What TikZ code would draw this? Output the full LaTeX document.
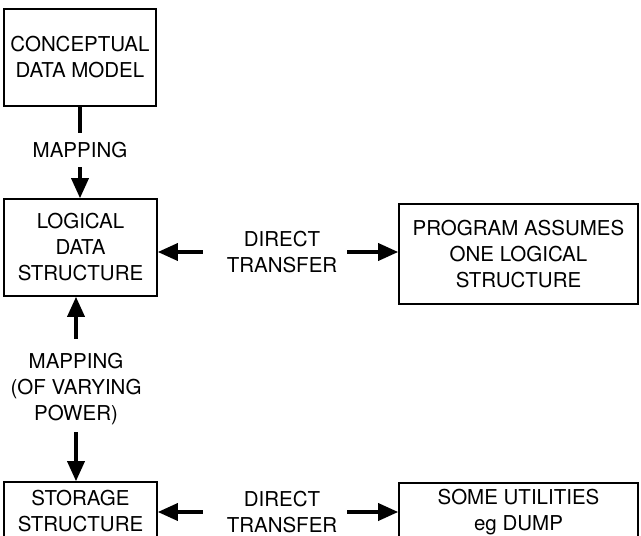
\documentclass[tikz,border=0pt]{standalone}
\usepackage{fontspec}
\setmainfont{TeX Gyre Heros}
\usetikzlibrary{arrows.meta}
\begin{document}
\begin{tikzpicture}[x=1pt,y=-1pt,
  box/.style={draw=black,line width=1.6pt,align=center,inner sep=0pt,
    font=\fontsize{20.5}{26}\selectfont},
  lbl/.style={align=center,inner sep=0pt,font=\fontsize{20.5}{26}\selectfont},
  shaft/.style={line width=3.5pt},
  arr/.style={line width=3.5pt,-{Triangle[length=20pt,width=17pt]}}]
\useasboundingbox (0,0) rectangle (641,536);
\begin{scope}
\clip (0,0) rectangle (641,536);
% boxes
\node[box,minimum width=152pt,minimum height=97pt] (cdm) at (80,57.5)
  {CONCEPTUAL\\DATA MODEL};
\node[box,minimum width=153pt,minimum height=97pt] (lds) at (80.5,247.5)
  {LOGICAL\\DATA\\STRUCTURE};
\node[box,minimum width=239pt,minimum height=100pt] (pas) at (518.5,254)
  {PROGRAM ASSUMES\\ONE LOGICAL\\STRUCTURE};
\node[box,minimum width=153pt,minimum height=58pt] (ss) at (80.5,511)
  {STORAGE\\STRUCTURE};
\node[box,minimum width=239pt,minimum height=58pt] (su) at (518.5,512)
  {SOME UTILITIES\\eg DUMP};
% labels
\node[lbl] (map1) at (80,150) {MAPPING};
\node[lbl] (dt1) at (282,252) {DIRECT\\TRANSFER};
\node[lbl] (map2) at (76,389) {MAPPING\\(OF VARYING\\POWER)};
\node[lbl] (dt2) at (282,512) {DIRECT\\TRANSFER};
% connectors
\draw[shaft] (cdm.south) -- ([yshift=9pt]map1.north);
\draw[arr] ([yshift=-9pt]map1.south) -- (map1.south |- lds.north);
\draw[arr] ([yshift=14pt]map2.north) -- (map2.north |- lds.south);
\draw[arr] ([yshift=-7pt]map2.south) -- (map2.south |- ss.north);
\draw[arr] ([xshift=-24pt]dt1.west) -- (dt1.west -| lds.east);
\draw[arr] ([xshift=10pt]dt1.east) -- (dt1.east -| pas.west);
\draw[arr] ([xshift=-24pt]dt2.west) -- (dt2.west -| ss.east);
\draw[arr] ([xshift=10pt]dt2.east) -- (dt2.east -| su.west);
\end{scope}
\end{tikzpicture}
\end{document}
